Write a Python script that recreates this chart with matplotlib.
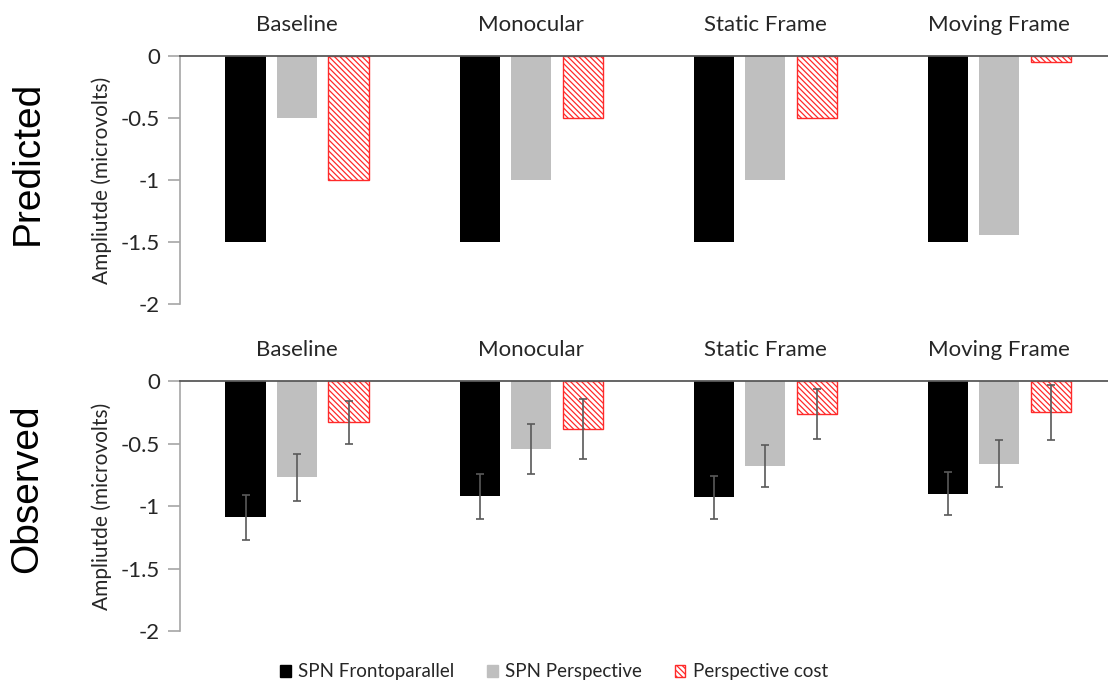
import numpy as np
import matplotlib.pyplot as plt
from matplotlib.patches import Patch

conditions = ["Baseline", "Monocular", "Static Frame", "Moving Frame"]
series_names = ["SPN Frontoparallel", "SPN Perspective", "Perspective cost"]

# predicted amplitudes (microvolts)
pred_fronto = [-1.5, -1.5, -1.5, -1.5]
pred_persp = [-0.5, -1.0, -1.0, -1.44]
pred_cost = [-1.0, -0.5, -0.5, -0.05]

# observed amplitudes and error bars
obs_fronto = [-1.09, -0.92, -0.93, -0.90]
obs_persp = [-0.77, -0.54, -0.68, -0.66]
obs_cost = [-0.33, -0.38, -0.26, -0.25]
err_fronto = [0.18, 0.18, 0.17, 0.17]
err_persp = [0.19, 0.20, 0.17, 0.19]
err_cost = [0.17, 0.24, 0.20, 0.22]

yticks = [0, -0.5, -1, -1.5, -2]
ytick_labels = ["0", "-0.5", "-1", "-1.5", "-2"]

plt.rcParams['font.family'] = ['Lato', 'DejaVu Sans']
plt.rcParams['hatch.linewidth'] = 0.9

ticksize = 16
catsize = 16
labelsize = 15
legendsize = 13.5
bar_w = 0.172
offset = 0.22
red = "#ff2a2a"
hatch = "\\\\\\\\\\\\"
text_color = "#262626"


def draw_panel(ax, values, errors, row_title):
    x = np.arange(len(conditions))
    colors = ["black", "#bfbfbf", "white"]
    for i, (vals, color) in enumerate(zip(values, colors)):
        pos = x + (i - 1) * offset
        if i == 2:
            ax.bar(pos, vals, bar_w, color="white", edgecolor=red,
                   hatch=hatch, linewidth=1.0, zorder=2)
        else:
            ax.bar(pos, vals, bar_w, color=color, linewidth=0, zorder=2)
        if errors is not None:
            ax.errorbar(pos, vals, yerr=errors[i], fmt="none", ecolor="#595959",
                        elinewidth=1.2, capsize=3, capthick=1.2, zorder=3)

    ax.set_xlim(-0.5, len(conditions) - 0.5)
    ax.set_ylim(-2, 0)
    ax.set_yticks(yticks)
    ax.set_yticklabels(ytick_labels, fontsize=ticksize, color=text_color)
    ax.set_xticks([])
    ax.tick_params(axis='y', length=8.5, color="#a6a6a6", width=1.2, pad=6)

    for side in ["right", "bottom"]:
        ax.spines[side].set_visible(False)
    ax.spines["left"].set_color("#a6a6a6")
    ax.spines["left"].set_linewidth(1.2)
    ax.spines["top"].set_color("#595959")
    ax.spines["top"].set_linewidth(1.3)

    for xi, name in zip(x, conditions):
        ax.text(xi, 0.2, name, ha="center", va="baseline", fontsize=catsize,
                color=text_color)

    ax.set_ylabel("Ampliutde (microvolts)", fontsize=labelsize, labelpad=6,
                  color=text_color)
    ax.text(-0.163, 0.57, row_title, rotation=90, ha="center", va="center",
            fontsize=28, family="Liberation Sans", transform=ax.transAxes)


fig = plt.figure(figsize=(11.08, 6.9), dpi=100)
ax_top = fig.add_axes([0.1625, 0.5594, 0.845, 0.3594])
ax_bot = fig.add_axes([0.1625, 0.0855, 0.845, 0.3623])

draw_panel(ax_top, [pred_fronto, pred_persp, pred_cost], None, "Predicted")
draw_panel(ax_bot, [obs_fronto, obs_persp, obs_cost],
           [err_fronto, err_persp, err_cost], "Observed")

handles = [
    Patch(facecolor="black", edgecolor="black"),
    Patch(facecolor="#bfbfbf", edgecolor="#bfbfbf"),
    Patch(facecolor="white", edgecolor=red, hatch=hatch),
]
fig.legend(handles, series_names, loc="center", bbox_to_anchor=(0.5, 1 - 672 / 690),
           ncol=3, frameon=False, fontsize=legendsize, handlelength=0.55,
           handleheight=0.55, handletextpad=0.4, columnspacing=1.75,
           labelcolor=text_color)

fig.savefig("out.png", dpi=100)
